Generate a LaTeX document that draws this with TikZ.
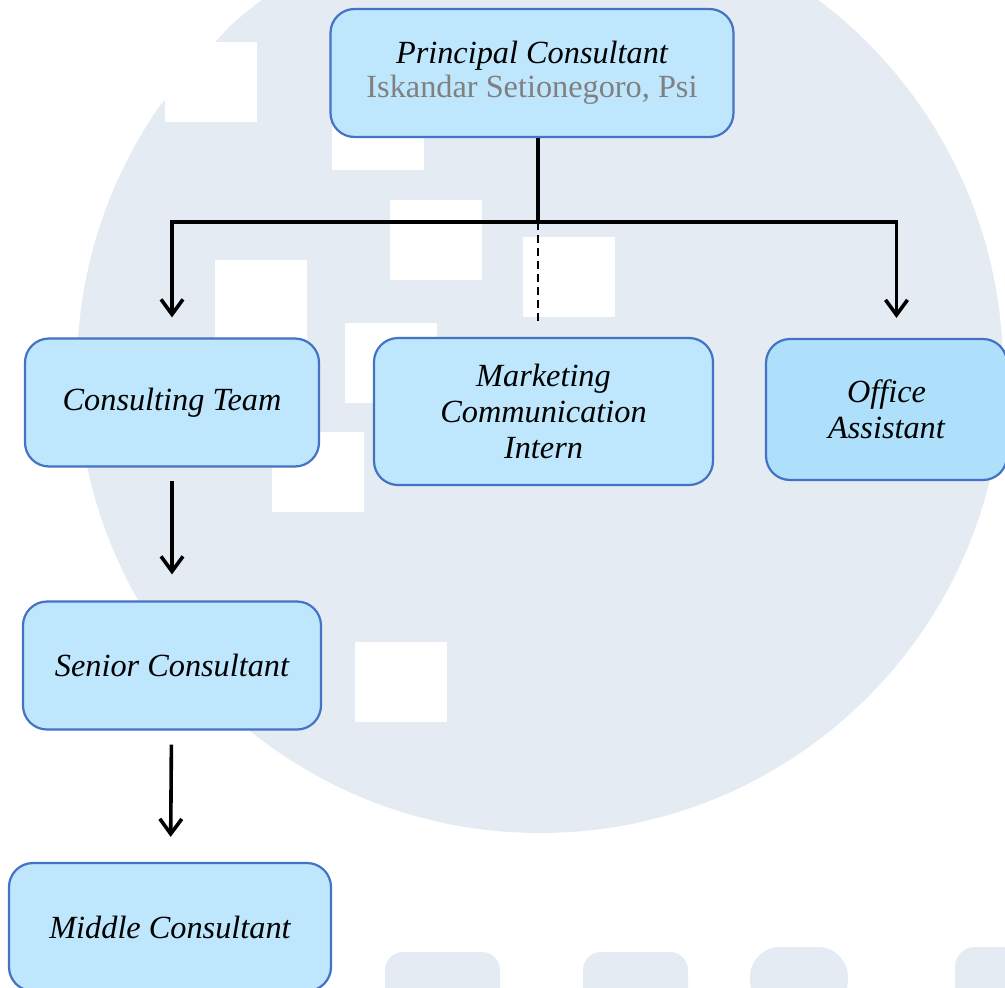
\documentclass[tikz,border=0pt]{standalone}
\usepackage{fontspec}
\setmainfont{Liberation Serif}
\usetikzlibrary{arrows.meta,positioning}

\definecolor{boxfill}{RGB}{190,230,252}
\definecolor{oafill}{RGB}{174,223,251}
\definecolor{boxline}{RGB}{68,114,196}
\definecolor{namegray}{RGB}{128,128,128}
\definecolor{wmark}{RGB}{228,235,243}

\begin{document}
\begin{tikzpicture}[x=1pt, y=-1pt,
	post/.style={draw=boxline, line width=2.2pt, fill=boxfill, rounded corners=24pt,
		align=center, font=\fontsize{32.3}{36}\selectfont\itshape, minimum height=128pt},
	link/.style={line width=3.6pt},
	arr/.style={link, -{Straight Barb[length=15pt, width=22pt]}}]
	\useasboundingbox (0,0) rectangle (1005,988);
	% watermark in the back
	\fill[wmark] (540,370) circle (463pt);
	\fill[white] (0,0) -- (252,0) -- (108,165) -- (0,165) -- cycle;
	\foreach \x/\y in {165/42, 332/90, 390/200, 215/260, 345/323, 272/432, 523/237, 355/642}
		\fill[white] (\x,\y) rectangle ++(92,80);
	\fill[wmark, rounded corners=18pt] (385,952) rectangle (500,1010);
	\fill[wmark, rounded corners=18pt] (583,952) rectangle (688,1010);
	\fill[wmark, rounded corners=30pt] (750,947) rectangle (848,1010);
	\fill[wmark, rounded corners=20pt] (955,947) rectangle (1030,1010);

	\node[post, minimum width=403pt] (pc) at (532,73)
		{Principal Consultant\\[-2pt]{\upshape\color{namegray}Iskandar Setionegoro, Psi}};
	\node[post, minimum width=294pt] (ct) at (172,402.5) {Consulting Team};
	\node[post, minimum width=339pt, minimum height=147pt] (mk) at (543.5,411.5)
		{Marketing\\Communication\\Intern};
	\node[post, fill=oafill, minimum width=241pt, minimum height=141pt] (oa) at (886.5,409.5)
		{Office\\Assistant};
	\node[post, minimum width=298pt] (sc) at (172,665.5) {Senior Consultant};
	\node[post, minimum width=322pt] (mc) at (170,927) {Middle Consultant};

	% branches
	\coordinate (bus) at (538,222);
	\draw[link] (pc.south -| bus) -- (bus);
	\draw[arr, shorten >=20pt] (bus) -| (ct.north);
	\draw[arr, shorten >=20pt] (bus) -| ([xshift=10pt]oa.north);
	\draw[line width=1.6pt, dash pattern=on 8pt off 5pt, shorten >=13pt] (bus) -- (bus |- mk.north);
	\draw[arr, shorten <=13pt, shorten >=26pt] (ct) -- (sc);
	\draw[arr, shorten <=14pt, shorten >=25pt] (sc) -- (mc);
\end{tikzpicture}
\end{document}
